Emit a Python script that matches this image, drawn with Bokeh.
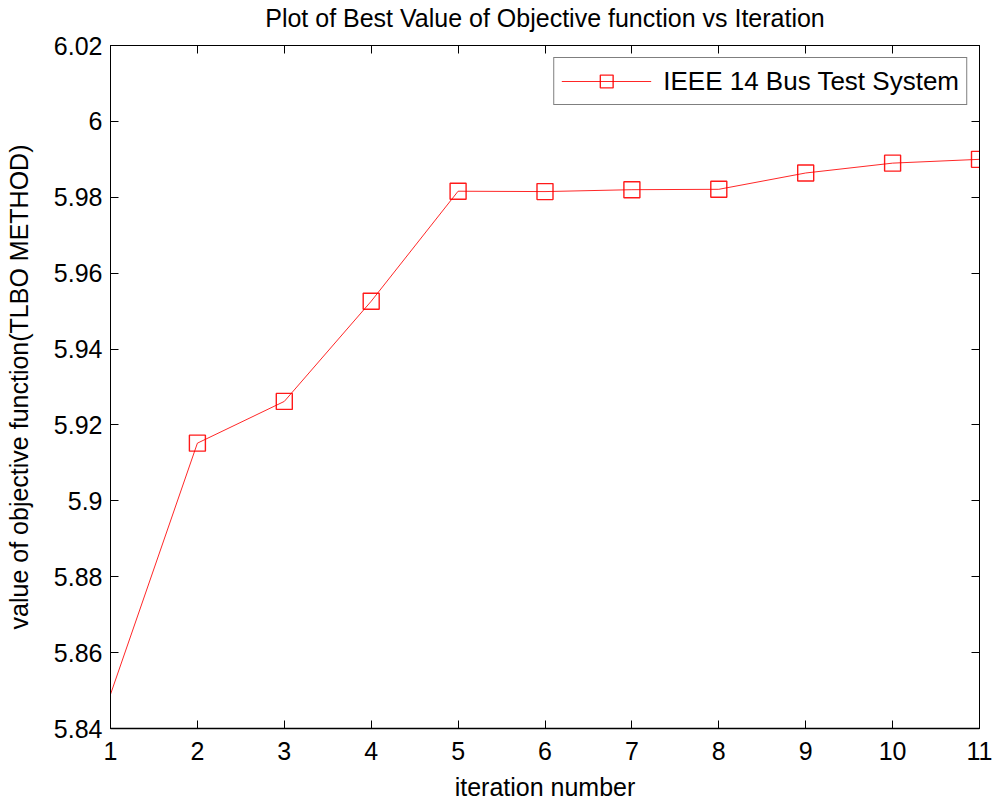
from bokeh.plotting import figure
from bokeh.models import (Range1d, FixedTicker, LinearAxis, CustomJSTickFormatter,
                          Legend, LegendItem, ColumnDataSource)
from bokeh.embed import file_html
from bokeh.resources import INLINE

# ---- data ----
iterations = [1, 2, 3, 4, 5, 6, 7, 8, 9, 10, 11]
best_values = [5.849, 5.9152, 5.9262, 5.9526, 5.9816, 5.9815, 5.9820, 5.9821, 5.9864, 5.9890, 5.9900]
x_ticks = [1, 2, 3, 4, 5, 6, 7, 8, 9, 10, 11]
y_ticks = [5.84, 5.86, 5.88, 5.90, 5.92, 5.94, 5.96, 5.98, 6.00, 6.02]
series_name = "IEEE 14 Bus Test System"
title_text = "Plot of Best Value of Objective function vs Iteration"
x_label = "iteration number"
y_label = "value of objective function(TLBO METHOD)"

FONT = "Liberation Sans"

p = figure(width=992, height=803, output_backend="svg", toolbar_location=None,
           x_range=Range1d(1, 11), y_range=Range1d(5.84, 6.02),
           min_border_left=110, min_border_right=13, min_border_top=45,
           min_border_bottom=75, background_fill_color="white",
           border_fill_color="white")

p.xgrid.visible = False
p.ygrid.visible = False
p.outline_line_color = "black"
p.outline_line_width = 1
p.title.visible = False

fmt = CustomJSTickFormatter(code="return String(parseFloat(tick.toFixed(2)));")
blank = CustomJSTickFormatter(code="return '';")

for ax, ticks in ((p.xaxis[0], x_ticks), (p.yaxis[0], y_ticks)):
    ax.ticker = FixedTicker(ticks=ticks)
    ax.formatter = fmt
    ax.major_tick_in = 8
    ax.major_tick_out = 0
    ax.minor_tick_in = 0
    ax.minor_tick_out = 0
    ax.axis_line_color = "black"
    ax.axis_line_width = 1
    ax.major_tick_line_color = "black"
    ax.major_label_text_font = FONT
    ax.major_label_text_font_size = "25px"
    ax.major_label_text_color = "black"
    ax.axis_label_text_font = FONT
    ax.axis_label_text_font_size = "25px"
    ax.axis_label_text_font_style = "normal"
    ax.axis_label_text_color = "black"

p.xaxis[0].axis_label = x_label
p.xaxis[0].major_label_standoff = 13
p.xaxis[0].axis_label_standoff = 10
p.xaxis[0].axis_line_width = 1.5
p.yaxis[0].axis_label = y_label
p.yaxis[0].major_label_standoff = 8
p.yaxis[0].axis_label_standoff = 18

# top axis carries the chart title as its label; right axis mirrors the ticks
top_ax = LinearAxis(ticker=FixedTicker(ticks=x_ticks), formatter=blank,
                    major_tick_in=8, major_tick_out=0, minor_tick_in=0, minor_tick_out=0,
                    major_label_standoff=0, major_label_text_font_size="0px",
                    axis_line_color="black",
                    axis_label=title_text, axis_label_standoff=14,
                    axis_label_text_font=FONT, axis_label_text_font_size="25px",
                    axis_label_text_font_style="normal", axis_label_text_color="black")
right_ax = LinearAxis(ticker=FixedTicker(ticks=y_ticks), formatter=blank,
                      major_tick_in=8, major_tick_out=0, minor_tick_in=0, minor_tick_out=0,
                      major_label_standoff=0, major_label_text_font_size="0px",
                      axis_line_color="black")
p.add_layout(top_ax, "above")
p.add_layout(right_ax, "right")

line_src = ColumnDataSource(data=dict(x=iterations, y=best_values))
mark_src = ColumnDataSource(data=dict(x=iterations[1:], y=best_values[1:]))

lr = p.line("x", "y", source=line_src, line_color="#ff0000", line_width=1, line_alpha=0.85)
sr = p.scatter("x", "y", source=mark_src, marker="square", size=16,
               line_color="#ff0000", line_width=1.4, fill_color=None, line_alpha=0.9)

legend = Legend(items=[LegendItem(label=series_name, renderers=[lr, sr])],
                location="top_right")
legend.border_line_color = "black"
legend.border_line_width = 1
legend.background_fill_color = "white"
legend.background_fill_alpha = 1
legend.label_text_font = FONT
legend.label_text_font_size = "26px"
legend.label_text_color = "black"
legend.glyph_width = 90
legend.glyph_height = 32
legend.label_height = 30
legend.padding = 7
legend.margin = 12
legend.label_standoff = 12
p.add_layout(legend)

open("out.html", "w").write(file_html(p, INLINE))
